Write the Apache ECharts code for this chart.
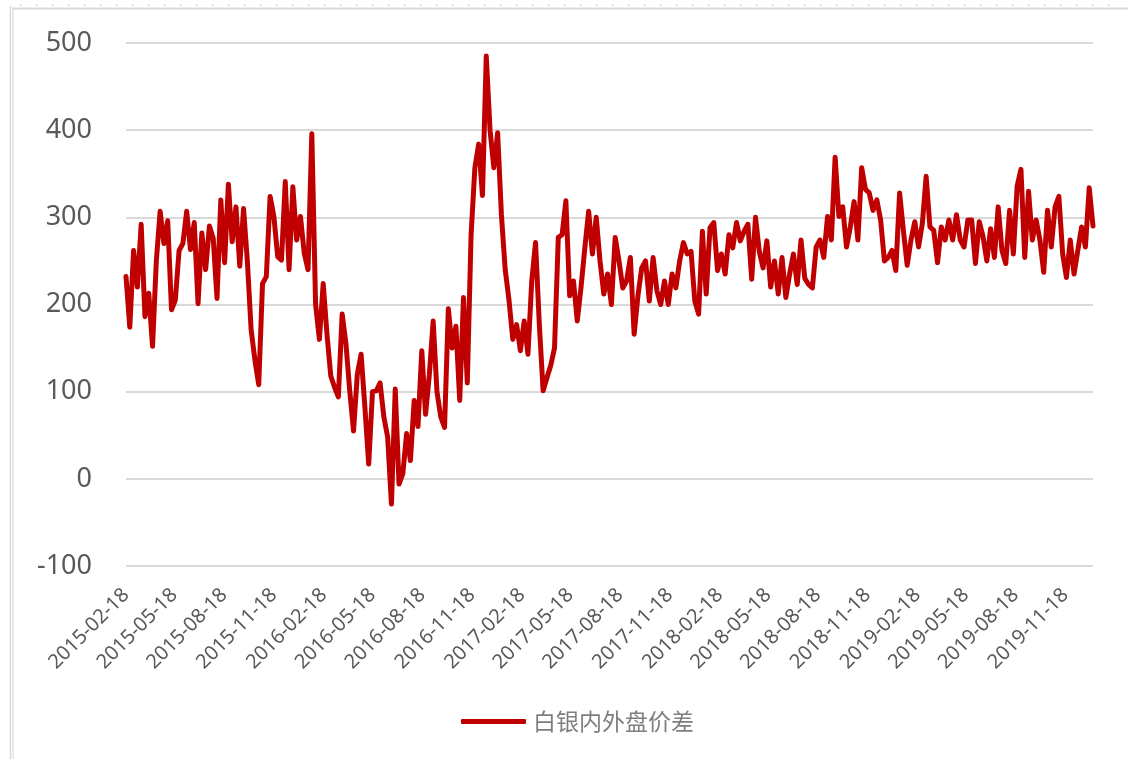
<!DOCTYPE html>
<html>
<head>
<meta charset="utf-8">
<title>白银内外盘价差</title>
<script src="https://cdn.jsdelivr.net/npm/echarts@6/dist/echarts.min.js"></script>
<style>
html,body{margin:0;padding:0;background:#fff;}
#chart{width:1128px;height:759px;}
</style>
</head>
<body>
<div id="chart"></div>
<script>
'use strict';
// 首个数据日期，之后按周取值
var startDate = '2015-02-18';
var stepDays = 7;
// 白银内外盘价差（元/千克），按周读数
var spread = [
	232,174,262,220,292,186,213,152,250,307,270,296,194,205,262,270,307,263,294,201,
	282,240,290,276,207,320,248,338,272,312,244,310,250,171,136,108,224,232,324,301,
	255,251,341,240,335,274,301,259,240,396,200,160,224,166,118,105,94,189,155,101,
	55,120,143,82,17,100,101,110,71,48,-29,103,-6,6,52,21,90,60,147,74,
	120,181,100,71,59,195,150,175,90,208,110,280,357,384,325,485,400,357,397,303,
	240,205,160,177,147,181,143,227,271,177,101,116,130,150,277,280,319,210,227,181,
	220,265,307,258,300,250,212,235,200,277,250,219,227,254,166,210,242,250,204,254,
	216,200,227,200,235,219,250,271,258,261,204,189,284,212,288,294,239,258,235,280,
	265,294,273,284,292,229,300,261,242,273,220,250,212,254,208,235,258,223,274,230,
	223,219,266,274,254,301,274,369,301,312,266,289,318,274,357,332,328,308,320,297,
	250,254,262,239,328,285,245,274,295,266,293,347,289,285,248,289,274,297,274,303,
	274,266,297,297,247,295,278,250,287,254,312,262,247,308,258,336,355,254,330,274,
	297,274,237,308,266,312,324,258,231,274,235,262,289,266,334,290
];
// 横轴显示的刻度标签
var tickLabels = [
	'2015-02-18','2015-05-18','2015-08-18','2015-11-18',
	'2016-02-18','2016-05-18','2016-08-18','2016-11-18',
	'2017-02-18','2017-05-18','2017-08-18','2017-11-18',
	'2018-02-18','2018-05-18','2018-08-18','2018-11-18',
	'2019-02-18','2019-05-18','2019-08-18','2019-11-18'
];
var yTicks = {min:-100, max:500, interval:100};
var seriesName = '白银内外盘价差';

function dayStr(ms){
	return new Date(ms).toISOString().slice(0,10);
}
var t0 = Date.parse(startDate + 'T00:00:00Z');
var DAY = 86400000;
var dates = spread.map(function(v,i){ return dayStr(t0 + i*stepDays*DAY); });
// 日期轴：逐日
var days = [];
var lastT = Date.parse(dates[dates.length-1] + 'T00:00:00Z');
for(var t=t0; t<=lastT; t+=DAY){ days.push(dayStr(t)); }

var chart = echarts.init(document.getElementById('chart'));

// 外框（模仿截图里的页面边线）
var frame = [
	{type:'line',shape:{x1:12,y1:8.5,x2:1128,y2:8.5},style:{stroke:'#d9d9d9',lineWidth:2}},
	{type:'line',shape:{x1:10.5,y1:6,x2:10.5,y2:759},style:{stroke:'#d9d9d9',lineWidth:1.5}},
	{type:'line',shape:{x1:13,y1:9,x2:13,y2:759},style:{stroke:'#e6e6e6',lineWidth:1.5}}
];
for(var dx=20; dx<1120; dx+=16){
	frame.push({type:'rect',shape:{x:dx,y:4.5,width:1.5,height:1.5},style:{fill:'#cfcfcf'}});
}

chart.setOption({
	animation:false,
	color:['#C00000'],
	graphic:frame,
	grid:{left:126,right:35,top:43,bottom:193,containLabel:false},
	legend:{
		data:[{name:seriesName,icon:'roundRect'}],
		left:461, top:710, padding:0,
		itemWidth:65, itemHeight:5,
		textStyle:{fontFamily:'Noto Sans CJK SC',fontSize:23,color:'#7f7f7f',padding:[0,0,0,2]}
	},
	xAxis:{
		type:'category',
		data:days,
		boundaryGap:false,
		axisLine:{show:false},
		axisTick:{show:false},
		splitLine:{show:false},
		axisLabel:{
			interval:function(idx,val){ return tickLabels.indexOf(val) >= 0; },
			rotate:45,
			margin:26,
			fontFamily:'Noto Sans',
			fontSize:20,
			color:'#595959'
		}
	},
	yAxis:{
		type:'value',
		min:yTicks.min, max:yTicks.max, interval:yTicks.interval,
		axisLine:{show:false},
		axisTick:{show:false},
		axisLabel:{margin:34,fontFamily:'Noto Sans',fontSize:27,color:'#595959'},
		splitLine:{lineStyle:{color:'#d9d9d9',width:2}}
	},
	series:[{
		name:seriesName,
		type:'line',
		symbol:'none',
		data:spread.map(function(v,i){ return [dates[i], v]; }),
		lineStyle:{width:5,color:'#C00000',join:'round',cap:'round'}
	}]
});
</script>
</body>
</html>
